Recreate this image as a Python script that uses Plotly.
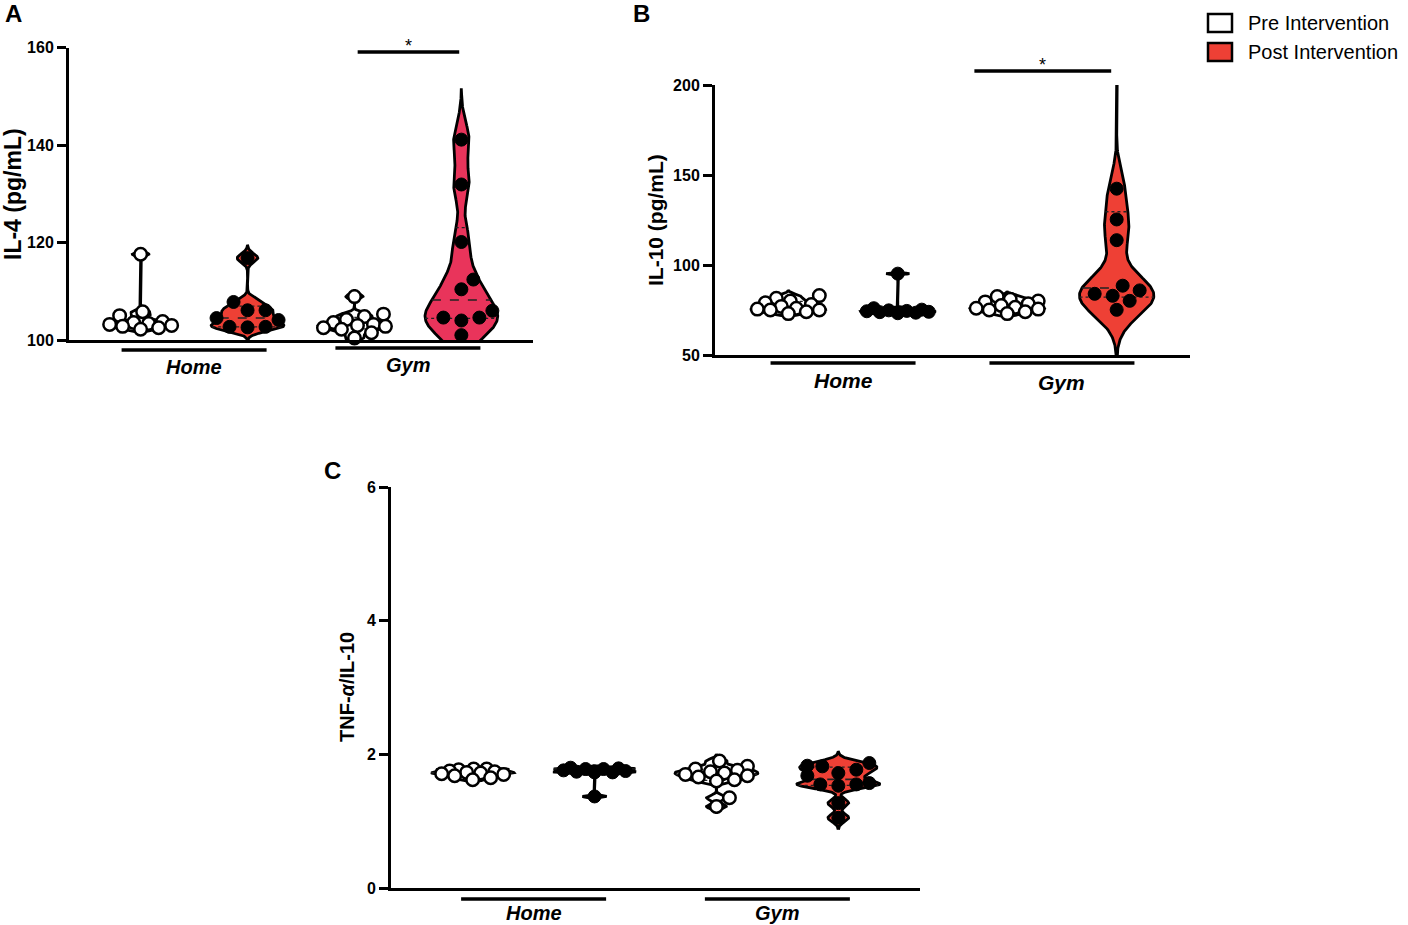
import numpy as np
import plotly.graph_objects as go

W, H = 1408, 925
RED = "#EE4035"
PINK = "#E9345B"
FONT = "Liberation Sans"

# ---- data ----
group_names = ["Home", "Gym"]
series_names = ["Pre Intervention", "Post Intervention"]

il4_home_pre = [117.6, 105.8, 105.0, 103.8, 103.6, 103.4, 103.2, 103.0, 102.8, 102.5, 102.2]
il4_home_post = [116.8, 107.8, 106.1, 106.1, 104.1, 104.5, 102.7, 102.7, 102.6]
il4_gym_pre = [108.9, 105.3, 104.8, 104.2, 103.6, 103.2, 103.0, 102.8, 102.5, 102.2, 101.5, 100.4]
il4_gym_post = [141.1, 131.9, 120.1, 112.4, 110.4, 106.0, 104.6, 104.6, 104.0, 101.0]

il10_home_pre = [83.0, 81.5, 80.0, 79.0, 78.0, 77.0, 76.0, 75.5, 75.0, 75.0, 74.0, 73.0]
il10_home_post = [95.2, 76.0, 75.2, 74.8, 74.5, 74.3, 74.0, 73.8, 73.5, 73.2]
il10_gym_pre = [82.5, 81.0, 80.0, 79.5, 78.5, 77.5, 76.5, 76.0, 75.5, 75.0, 74.0, 73.0]
il10_gym_post = [235.0, 142.4, 125.3, 113.8, 88.5, 85.9, 84.0, 82.9, 80.1, 75.1]

ratio_home_pre = [1.78, 1.78, 1.77, 1.75, 1.74, 1.73, 1.72, 1.71, 1.70, 1.68, 1.65, 1.62]
ratio_home_post = [1.80, 1.79, 1.78, 1.78, 1.76, 1.75, 1.74, 1.73, 1.73, 1.37]
ratio_gym_pre = [1.90, 1.82, 1.78, 1.76, 1.74, 1.72, 1.70, 1.68, 1.66, 1.62, 1.60, 1.35, 1.22]
ratio_gym_post = [1.87, 1.83, 1.82, 1.77, 1.72, 1.68, 1.57, 1.55, 1.55, 1.53, 1.27, 1.05]

il4_ticks = [100, 120, 140, 160]
il10_ticks = [50, 100, 150, 200]
ratio_ticks = [0, 2, 4, 6]

XR = [0.33, 4.67]
xpos = [1, 2, 3, 4]


def px(x):
    return x / W


def py(y):
    return 1 - y / H


panels = [
    dict(letter="A", n="", sets=[il4_home_pre, il4_home_post, il4_gym_pre, il4_gym_post],
         fills=["white", RED, "white", PINK], yr=[100, 160], ticks=il4_ticks,
         xdom=[px(69), px(533)], ydom=[py(340), py(47.5)], title="IL-4 (pg/mL)", tsize=23,
         tx=13, ty=194, lx=13, ly=14, star=(3.03, 3.98, 52), bar_y=(350, 348), lab_y=(367, 365),
         fsize=20),
    dict(letter="B", n="2", sets=[il10_home_pre, il10_home_post, il10_gym_pre, il10_gym_post],
         fills=["white", RED, "white", RED], yr=[50, 200], ticks=il10_ticks,
         xdom=[px(715), px(1190)], ydom=[py(355), py(85)], title="IL-10 (pg/mL)", tsize=21,
         tx=655, ty=220, lx=641, ly=14, star=(2.70, 3.95, 71), bar_y=(363, 363), lab_y=(380, 382),
         fsize=21),
    dict(letter="C", n="3", sets=[ratio_home_pre, ratio_home_post, ratio_gym_pre, ratio_gym_post],
         fills=["white", RED, "white", RED], yr=[0, 6], ticks=ratio_ticks,
         xdom=[px(391), px(920)], ydom=[py(888), py(487)], title="TNF-<i>α</i>/IL-10", tsize=20,
         tx=347, ty=687, lx=332, ly=470, star=None, bar_y=(899, 899), lab_y=(913, 913),
         fsize=20),
]


def kde(vals):
    v = np.asarray(vals, float)
    sd = v.std(ddof=1)
    q75, q25 = np.percentile(v, [75, 25])
    spread = min(sd, (q75 - q25) / 1.34) if q75 > q25 else sd
    bw = 0.55 * spread * len(v) ** -0.2
    grid = np.linspace(v.min() - 3 * bw, v.max() + 3 * bw, 400)
    dens = np.exp(-0.5 * ((grid[:, None] - v[None, :]) / bw) ** 2).sum(axis=1)
    return grid, dens / dens.max()


def swarm(vals, xpu, ypu, dx=18.0, dy=12.5, cap=31.0):
    # greedy beeswarm in pixel space, kept within the violin width
    v = np.asarray(vals, float)
    cand = np.arange(-cap, cap + 0.5, 1.0)
    cand = cand[np.argsort(np.abs(cand) + 0.01 * (cand < 0))]
    placed = []
    offs = np.zeros(len(v))
    for i in np.argsort(v):
        y = v[i] * ypu
        if placed:
            P = np.array(placed)
            dist = np.sqrt(((cand[:, None] - P[None, :, 0]) / dx) ** 2
                           + ((y - P[None, :, 1]) / dy) ** 2).min(axis=1)
            ok = dist >= 1
            x = cand[ok][0] if ok.any() else cand[np.argmax(dist)]
        else:
            x = 0.0
        placed.append((x, y))
        offs[i] = x / xpu
    return offs


fig = go.Figure()
HW = 0.34  # half width of the widest violin, x units

for p in panels:
    xa, ya = "x" + p["n"], "y" + p["n"]
    xpu = (p["xdom"][1] - p["xdom"][0]) * W / (XR[1] - XR[0])
    ypu = (p["ydom"][1] - p["ydom"][0]) * H / (p["yr"][1] - p["yr"][0])
    for k, vals in enumerate(p["sets"]):
        c = xpos[k]
        grid, d = kde(vals)
        fig.add_trace(go.Scatter(
            x=np.r_[c + HW * d, (c - HW * d)[::-1]], y=np.r_[grid, grid[::-1]],
            mode="lines", fill="toself", fillcolor=p["fills"][k],
            line=dict(color="black", width=2.8), xaxis=xa, yaxis=ya,
            hoverinfo="skip", showlegend=False))
        q1, med, q3 = np.percentile(vals, [25, 50, 75], method="weibull")
        for q, dash, lw in [(q1, "dot", 1.3), (med, "dash", 1.6), (q3, "dot", 1.3)]:
            w = HW * np.interp(q, grid, d)
            fig.add_trace(go.Scatter(
                x=[c - w, c + w], y=[q, q], mode="lines",
                line=dict(color="#222222", width=lw, dash=dash),
                xaxis=xa, yaxis=ya, hoverinfo="skip", showlegend=False))
        offs = swarm(vals, xpu, ypu)
        pre = k % 2 == 0
        fig.add_trace(go.Scatter(
            x=c + offs, y=vals, mode="markers", cliponaxis=False,
            marker=dict(size=12.5 if pre else 13, color="white" if pre else "black",
                        line=dict(color="black", width=2.5 if pre else 1)),
            xaxis=xa, yaxis=ya, showlegend=False))

    ax = dict(range=XR, domain=p["xdom"], anchor=ya, showline=True, linewidth=3,
              linecolor="black", showgrid=False, zeroline=False, showticklabels=False,
              ticks="", automargin=False)
    ay = dict(range=p["yr"], domain=p["ydom"], anchor=xa, showline=True, linewidth=3,
              linecolor="black", showgrid=False, zeroline=False, tickvals=p["ticks"],
              ticks="outside", ticklen=9, tickwidth=3, tickcolor="black", automargin=False,
              tickfont=dict(family=FONT, size=16, color="black", weight="bold"))
    fig.update_layout({"xaxis" + p["n"]: ax, "yaxis" + p["n"]: ay})

    def xd(x):
        return (x - XR[0]) / (XR[1] - XR[0])

    # group bars and labels under the axis
    half = 72.5 / xpu
    for g, gc in enumerate([1.5, 3.5]):
        fig.add_shape(type="line", xref=xa + " domain", yref="paper",
                      x0=xd(gc - half), x1=xd(gc + half),
                      y0=py(p["bar_y"][g]), y1=py(p["bar_y"][g]),
                      line=dict(color="black", width=3.5))
        fig.add_annotation(text="<b><i>%s</i></b>" % group_names[g], xref=xa + " domain",
                           yref="paper", x=xd(gc), y=py(p["lab_y"][g]), showarrow=False,
                           xanchor="center", yanchor="middle",
                           font=dict(family=FONT, size=p["fsize"], color="black"))
    if p["star"]:
        s0, s1, sy = p["star"]
        fig.add_shape(type="line", xref=xa + " domain", yref="paper", x0=xd(s0), x1=xd(s1),
                      y0=py(sy), y1=py(sy), line=dict(color="black", width=3.5))
        fig.add_annotation(text="*", xref=xa + " domain", yref="paper", x=xd((s0 + s1) / 2),
                           y=py(sy - 6), xanchor="center", yanchor="middle", showarrow=False,
                           font=dict(family=FONT, size=18, color="black"))
    fig.add_annotation(text="<b>%s</b>" % p["title"], xref="paper", yref="paper",
                       x=px(p["tx"]), y=py(p["ty"]), textangle=-90, showarrow=False,
                       xanchor="center", yanchor="middle",
                       font=dict(family=FONT, size=p["tsize"], color="black"))
    fig.add_annotation(text="<b>%s</b>" % p["letter"], xref="paper", yref="paper",
                       x=px(p["lx"]), y=py(p["ly"]), showarrow=False,
                       xanchor="center", yanchor="middle",
                       font=dict(family=FONT, size=24, color="black"))

# legend
for i, (name, col) in enumerate(zip(series_names, ["white", RED])):
    y0 = 14 + 29 * i
    fig.add_shape(type="rect", xref="paper", yref="paper", x0=px(1208), x1=px(1232),
                  y0=py(y0), y1=py(y0 + 18), fillcolor=col, line=dict(color="black", width=2.5))
    fig.add_annotation(text=name, xref="paper", yref="paper", x=px(1246), y=py(y0 + 9),
                       xanchor="left", yanchor="middle", showarrow=False,
                       font=dict(family=FONT, size=20, color="black"))

fig.update_layout(width=W, height=H, margin=dict(l=0, r=0, t=0, b=0),
                  plot_bgcolor="white", paper_bgcolor="white", showlegend=False)
fig.write_html("out.html", config={"displayModeBar": False},
               post_script="document.body.style.margin='0';")
